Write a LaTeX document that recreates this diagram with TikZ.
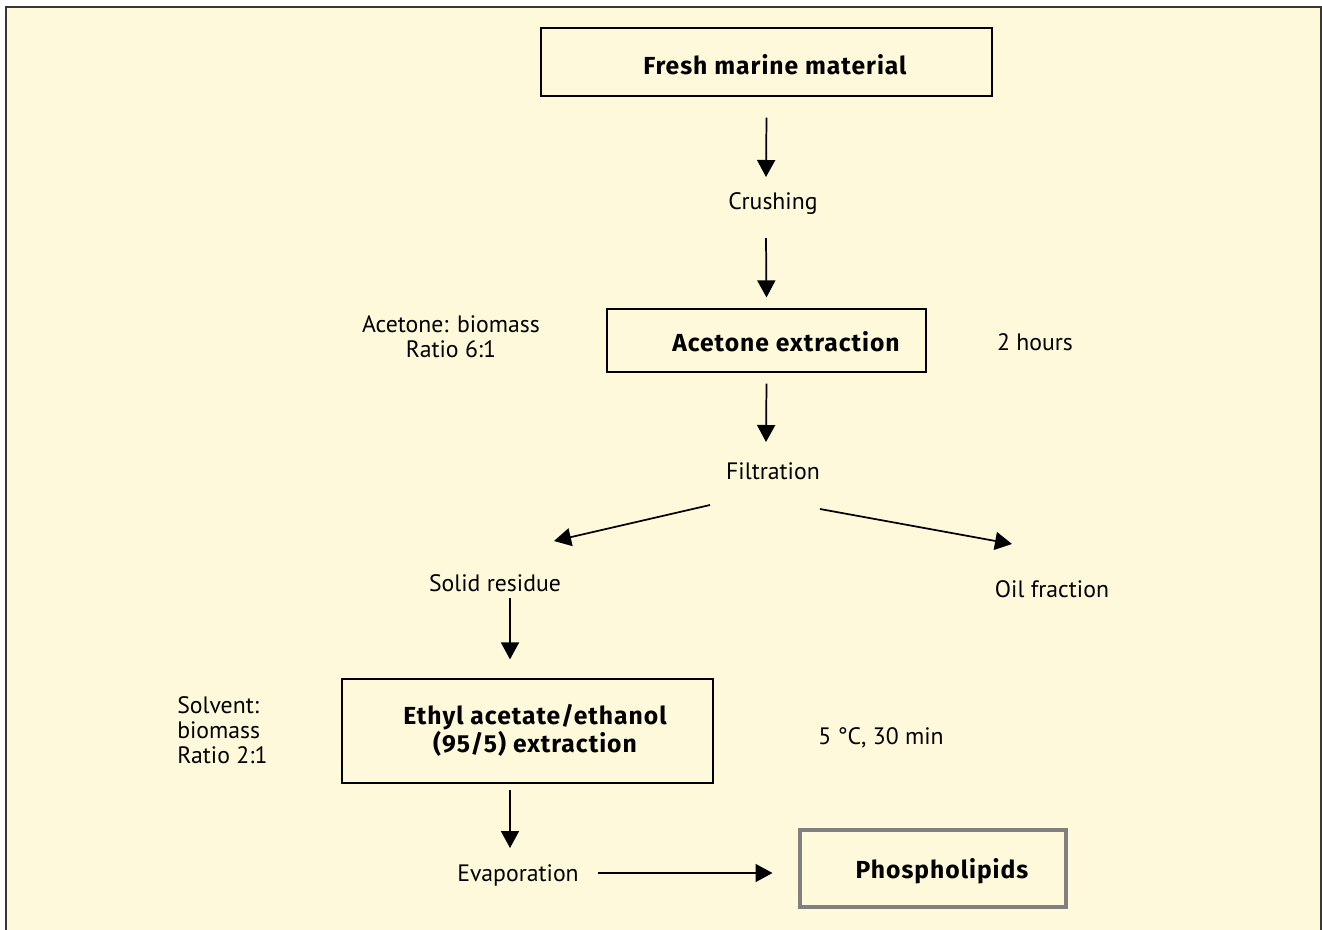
\documentclass[tikz,border=0pt]{standalone}
\usepackage{fontspec}
\setmainfont{PT Sans}
\newfontfamily\boldfam[LetterSpace=4]{Fira Sans}
\usetikzlibrary{arrows.meta,calc}
\definecolor{cream}{RGB}{255,249,219}
\definecolor{framegray}{RGB}{55,55,55}
\definecolor{boxgray}{RGB}{128,128,128}
\tikzset{
  box/.style={draw=black, line width=0.9pt, rectangle, inner sep=0pt},
  endbox/.style={draw=boxgray, line width=3pt, rectangle, inner sep=0pt},
  txt/.style={inner sep=0pt, font=\fontsize{17.8pt}{18.75pt}\selectfont},
  btxt/.style={inner sep=0pt, font=\boldfam\fontsize{18.5pt}{19.5pt}\selectfont\bfseries},
  arr/.style={line width=1.3pt, -{Triangle[length=12.75pt,width=13.5pt]}},
}
\begin{document}
\begin{tikzpicture}[x=0.75pt,y=-0.75pt]
\useasboundingbox (0,0) rectangle (1322,929);
\fill[white] (0,0) rectangle (1322,929);
\draw[fill=cream, draw=framegray, line width=1.5pt] (6,7) rectangle (1321,940);

% boxes
\node[box, minimum width=338.25pt, minimum height=51pt] (box1) at (766.5,62) {};
\node[box, minimum width=239.25pt, minimum height=47.25pt] (box2) at (766.5,340.5) {};
\node[box, minimum width=278.25pt, minimum height=78pt] (box3) at (527.5,731) {};
\node[endbox, minimum width=199.5pt, minimum height=57.75pt] (box4) at (932.5,868) {};

% box texts
\node[btxt] (t1) at (775,65) {Fresh marine material};
\node[btxt] (t2) at (786,342) {Acetone extraction};
\node[btxt, align=center] (t3) at (535,730) {Ethyl acetate/ethanol\\(95/5) extraction};
\node[btxt] (t4) at (942,871) {Phospholipids};

% plain texts
\node[txt] (crush) at (773,204) {Crushing};
\node[txt, align=center] (acbio) at (451,337) {Acetone: biomass\\Ratio 6:1};
\node[txt] (hours) at (1035,342) {2 hours};
\node[txt] (filt) at (773,471) {Filtration};
\node[txt] (solid) at (495,583) {Solid residue};
\node[txt] (oil) at (1052,589) {Oil fraction};
\node[txt, align=left, anchor=west] (solv) at (177,730) {Solvent:\\biomass\\Ratio 2:1};
\node[txt] (temp) at (881,738) {5 °C, 30 min};
\node[txt] (evap) at (518,875) {Evaporation};

% connectors
\draw[arr] ($(box1.south)+(0,21)$) -- ($(crush)+(-7,-27)$);
\draw[arr] ($(crush)+(-7,34)$) -- ($(box2.north)+(0,-11)$);
\draw[arr] ($(box2.south)+(0,11)$) -- ($(filt)+(-7,-29)$);
\draw[arr] ($(filt)+(-63,34)$) -- ($(solid)+(59,-42)$);
\draw[arr] ($(filt)+(47,38)$) -- ($(oil)+(-40,-45)$);
\draw[arr] ($(solid)+(15,15)$) -- ($(box3.north)+(-17.5,-19)$);
\draw[arr] ($(box3.south)+(-17.5,6)$) -- ($(evap)+(-8,-27)$);
\draw[arr] ($(evap)+(80,-2)$) -- ($(box4.west)+(-25,5)$);
\end{tikzpicture}
\end{document}
